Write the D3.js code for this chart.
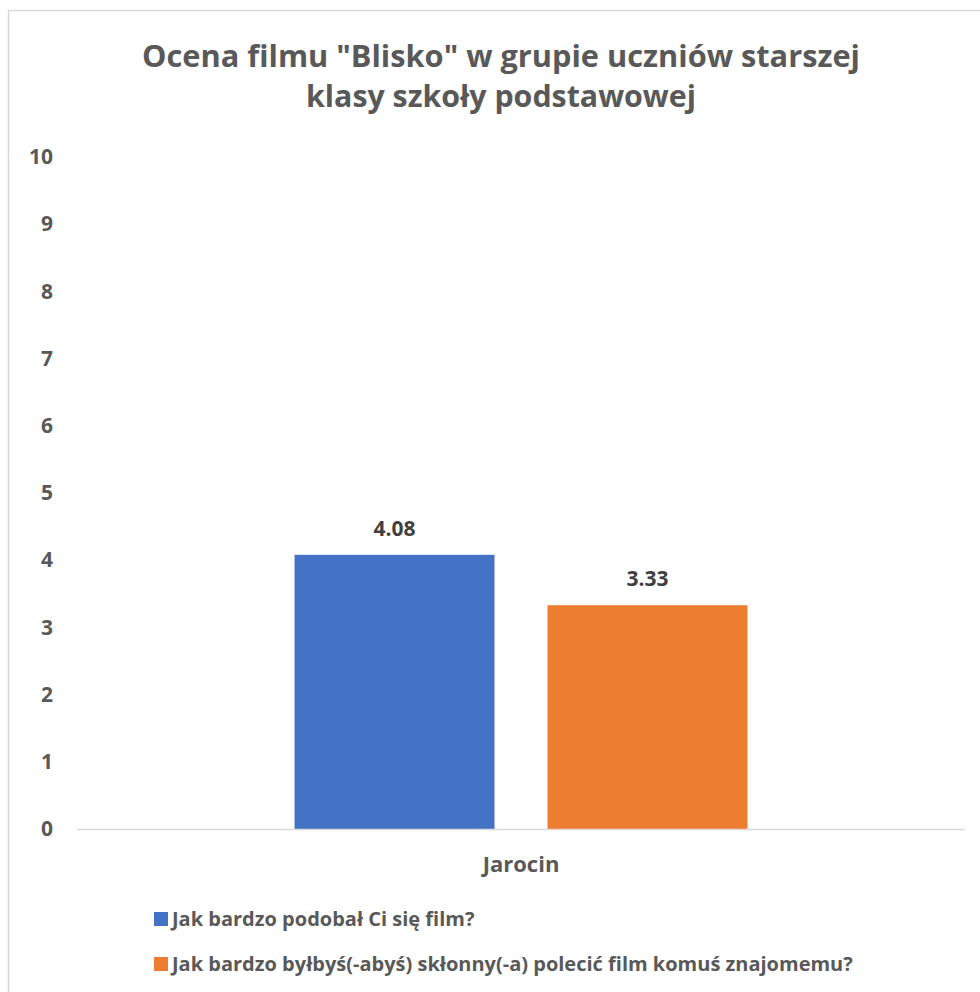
<!DOCTYPE html>
<html>
<head>
<meta charset="utf-8">
<script src="https://cdn.jsdelivr.net/npm/d3@7"></script>
<style>
  html, body { margin: 0; background: #fff; overflow: hidden; }
  svg { display: block; }
  svg text { font-family: "Open Sans", Lato, sans-serif; font-weight: bold; }
</style>
</head>
<body>
<div id="chart"></div>
<script>
// Dane
const categories = ['Jarocin'];
const seriesNames = [
  'Jak bardzo podobał Ci się film?',
  'Jak bardzo byłbyś(-abyś) skłonny(-a) polecić film komuś znajomemu?'
];
const seriesValues = [4.08, 3.33];
const seriesColors = ['#4472C4', '#ED7D31'];
const yTicks = [0, 1, 2, 3, 4, 5, 6, 7, 8, 9, 10];
const titleLines = ['Ocena filmu "Blisko" w grupie uczniów starszej', 'klasy szkoły podstawowej'];

const width = 980, height = 992;
const margin = { top: 157, right: 15, bottom: 163, left: 77 };

const svg = d3.select('#chart')
  .append('svg')
  .attr('width', width)
  .attr('height', height);

// Ramka wykresu
svg.append('rect')
  .attr('x', 8.5).attr('y', 10.5)
  .attr('width', 1000).attr('height', 1000)
  .attr('fill', '#fff')
  .attr('stroke', '#d9d9d9')
  .attr('stroke-width', 1.5);

// Tytuł (szerokości linii jak w oryginale)
const titleWidths = [718, 390];
svg.append('g')
  .selectAll('text')
  .data(titleLines)
  .enter().append('text')
  .attr('x', 501)
  .attr('y', (d, i) => 67 + i * 40)
  .attr('text-anchor', 'middle')
  .attr('fill', '#595959')
  .attr('font-size', 31)
  .attr('textLength', (d, i) => titleWidths[i])
  .attr('lengthAdjust', 'spacingAndGlyphs')
  .text(d => d);

// Skale
const y = d3.scaleLinear()
  .domain([0, 10])
  .range([height - margin.bottom, margin.top]);

const x0 = d3.scaleBand()
  .domain(categories)
  .range([margin.left, width - margin.right])
  .paddingInner(0.3245)
  .paddingOuter(0.3245);

const x1 = d3.scaleBand()
  .domain(seriesNames)
  .range([0, x0.bandwidth()])
  .paddingInner(0.2095)
  .paddingOuter(0);

// Oś Y (tylko etykiety)
const yAxis = svg.append('g')
  .attr('transform', `translate(${margin.left - 24},0)`)
  .call(d3.axisLeft(y).tickValues(yTicks).tickSize(0).tickPadding(0));
yAxis.select('.domain').remove();
yAxis.selectAll('text')
  .attr('fill', '#595959')
  .attr('font-size', 21)
  .style('font-family', '"Open Sans", sans-serif')
  .style('font-weight', 'bold');

// Słupki
const groups = svg.append('g')
  .selectAll('g')
  .data(categories)
  .enter().append('g')
  .attr('transform', d => `translate(${x0(d)},0)`);

groups.selectAll('rect')
  .data(() => seriesNames.map((name, i) => ({ name, value: seriesValues[i], color: seriesColors[i] })))
  .enter().append('rect')
  .attr('x', d => x1(d.name))
  .attr('y', d => y(d.value))
  .attr('width', x1.bandwidth())
  .attr('height', d => y(0) - y(d.value))
  .attr('fill', d => d.color);

groups.selectAll('text.label')
  .data(() => seriesNames.map((name, i) => ({ name, value: seriesValues[i] })))
  .enter().append('text')
  .attr('class', 'label')
  .attr('x', d => x1(d.name) + x1.bandwidth() / 2)
  .attr('y', d => y(d.value) - 19)
  .attr('text-anchor', 'middle')
  .attr('fill', '#404040')
  .attr('font-size', 21)
  .text(d => d.value.toFixed(2));

// Linia osi X
svg.append('line')
  .attr('x1', margin.left).attr('x2', width - margin.right)
  .attr('y1', y(0) + 0.5).attr('y2', y(0) + 0.5)
  .attr('stroke', '#d9d9d9')
  .attr('stroke-width', 1.5);

// Etykieta kategorii
const xAxis = svg.append('g')
  .attr('transform', `translate(0,${y(0)})`)
  .call(d3.axisBottom(x0).tickSize(0).tickPadding(0));
xAxis.select('.domain').remove();
xAxis.selectAll('text')
  .attr('y', 43)
  .attr('dy', 0)
  .attr('fill', '#595959')
  .attr('font-size', 22)
  .style('font-family', '"Open Sans", sans-serif')
  .style('font-weight', 'bold');

// Legenda
const legend = svg.append('g')
  .selectAll('g')
  .data(seriesNames)
  .enter().append('g')
  .attr('transform', (d, i) => `translate(154,${912 + i * 45})`);

legend.append('rect')
  .attr('width', 14).attr('height', 14)
  .attr('fill', (d, i) => seriesColors[i]);

legend.append('text')
  .attr('x', 18)
  .attr('y', 14)
  .attr('fill', '#595959')
  .attr('font-size', 20)
  .text(d => d);
</script>
</body>
</html>
